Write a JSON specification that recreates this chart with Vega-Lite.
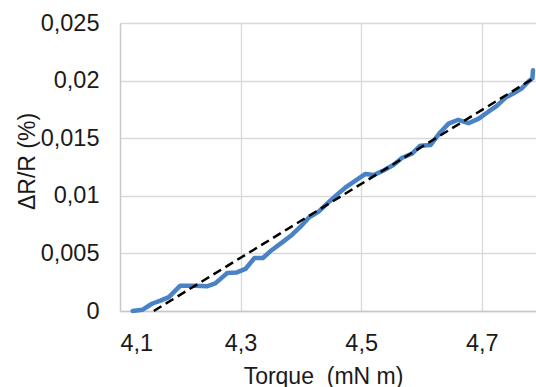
{
  "$schema": "https://vega.github.io/schema/vega-lite/v6.json",
  "width": 416,
  "height": 288,
  "autosize": {"type": "none"},
  "padding": {"left": 120, "top": 23, "right": 0, "bottom": 76},
  "background": "white",
  "config": {
    "view": {"stroke": null},
    "font": "Liberation Sans",
    "axis": {
      "labelFont": "Liberation Sans",
      "titleFont": "Liberation Sans",
      "labelFontSize": 23.5,
      "titleFontSize": 23,
      "titleFontWeight": "normal",
      "labelColor": "#1a1a1a",
      "titleColor": "#1a1a1a",
      "gridColor": "#d9d9d9",
      "gridWidth": 1.3,
      "domainColor": "#c8c8c8",
      "domainWidth": 1.3,
      "ticks": false
    }
  },
  "datasets": {
    "measured": [
      {"torque": 4.121, "dr": 0.0},
      {"torque": 4.137, "dr": 0.0001},
      {"torque": 4.153, "dr": 0.00063},
      {"torque": 4.167, "dr": 0.0009},
      {"torque": 4.181, "dr": 0.0012},
      {"torque": 4.2, "dr": 0.0022},
      {"torque": 4.225, "dr": 0.0022},
      {"torque": 4.244, "dr": 0.00214},
      {"torque": 4.258, "dr": 0.0024},
      {"torque": 4.278, "dr": 0.0033},
      {"torque": 4.294, "dr": 0.00335},
      {"torque": 4.308, "dr": 0.00365},
      {"torque": 4.323, "dr": 0.0046},
      {"torque": 4.337, "dr": 0.0046},
      {"torque": 4.352, "dr": 0.0053},
      {"torque": 4.369, "dr": 0.00596},
      {"torque": 4.385, "dr": 0.0066},
      {"torque": 4.399, "dr": 0.0073},
      {"torque": 4.413, "dr": 0.0081},
      {"torque": 4.429, "dr": 0.0086},
      {"torque": 4.443, "dr": 0.0093},
      {"torque": 4.46, "dr": 0.0101},
      {"torque": 4.476, "dr": 0.0108},
      {"torque": 4.493, "dr": 0.0114},
      {"torque": 4.507, "dr": 0.0119},
      {"torque": 4.521, "dr": 0.0118},
      {"torque": 4.537, "dr": 0.0122},
      {"torque": 4.554, "dr": 0.0127},
      {"torque": 4.568, "dr": 0.0133},
      {"torque": 4.584, "dr": 0.01365},
      {"torque": 4.598, "dr": 0.01435},
      {"torque": 4.615, "dr": 0.0144},
      {"torque": 4.631, "dr": 0.0155},
      {"torque": 4.645, "dr": 0.01626},
      {"torque": 4.661, "dr": 0.0166},
      {"torque": 4.678, "dr": 0.0163},
      {"torque": 4.695, "dr": 0.0167},
      {"torque": 4.711, "dr": 0.0173},
      {"torque": 4.725, "dr": 0.0178},
      {"torque": 4.739, "dr": 0.0185},
      {"torque": 4.753, "dr": 0.0189},
      {"torque": 4.766, "dr": 0.0193},
      {"torque": 4.777, "dr": 0.0199},
      {"torque": 4.784, "dr": 0.0202},
      {"torque": 4.785, "dr": 0.0209}
    ],
    "fit": [
      {"torque": 4.156, "dr": 0.0},
      {"torque": 4.786, "dr": 0.0202}
    ]
  },
  "layer": [
    {
      "data": {"name": "measured"},
      "mark": {"type": "line", "color": "#4a82c6", "strokeWidth": 4.5, "strokeJoin": "round", "strokeCap": "round", "clip": false},
      "encoding": {
        "x": {
          "field": "torque", "type": "quantitative",
          "scale": {"domain": [4.1, 4.79], "nice": false, "zero": false},
          "axis": {
            "title": "Torque \u00a0(mN m)",
            "values": [4.1, 4.3, 4.5, 4.7],
            "labelExpr": "replace(format(datum.value, '.1f'), '.', ',')",
            "labelPadding": 20,
            "titleY": 54,
            "titleX": 203,
            "grid": true
          }
        },
        "y": {
          "field": "dr", "type": "quantitative",
          "scale": {"domain": [0, 0.025], "nice": false},
          "axis": {
            "title": "ΔR/R (%)",
            "values": [0, 0.005, 0.01, 0.015, 0.02, 0.025],
            "labelExpr": "replace(format(datum.value, ''), '.', ',')",
            "labelPadding": 21,
            "titleX": -81,
            "titleY": 138,
            "grid": true
          }
        }
      }
    },
    {
      "data": {"name": "fit"},
      "mark": {"type": "line", "color": "black", "strokeWidth": 2.5, "strokeDash": [9, 5]},
      "encoding": {
        "x": {"field": "torque", "type": "quantitative"},
        "y": {"field": "dr", "type": "quantitative"}
      }
    }
  ]
}
